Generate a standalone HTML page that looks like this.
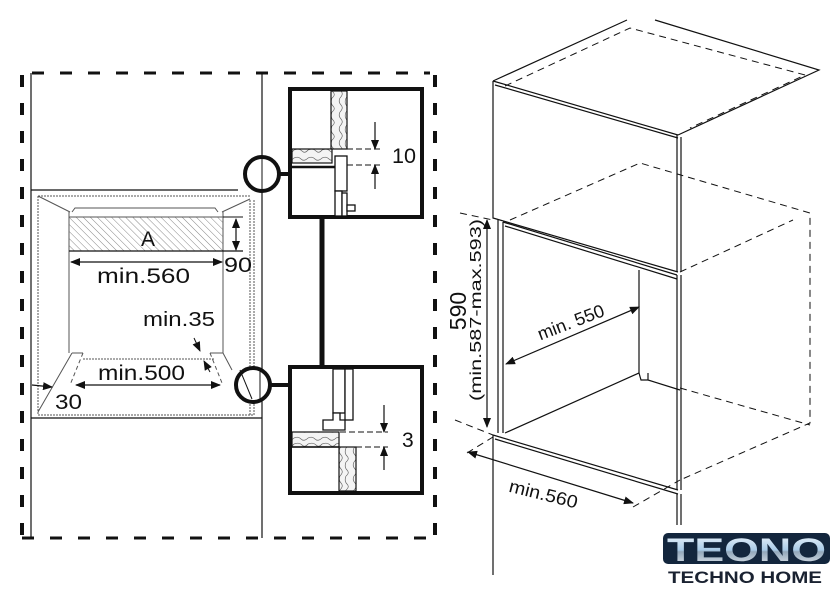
<!DOCTYPE html>
<html><head><meta charset="utf-8"><style>
html,body{margin:0;padding:0;background:#fff;}
svg{display:block;}
text{font-family:"Liberation Sans",Arial,sans-serif;fill:#111;}
</style></head><body>
<svg width="840" height="594" viewBox="0 0 840 594" xmlns="http://www.w3.org/2000/svg">
<defs>
<pattern id="hatch" width="5" height="5" patternUnits="userSpaceOnUse" patternTransform="rotate(-45)">
<line x1="0" y1="0" x2="0" y2="5" stroke="#888" stroke-width="1"/>
</pattern>
<pattern id="wood" width="14" height="14" patternUnits="userSpaceOnUse">
<rect width="14" height="14" fill="#f4f4f4"/>
<path d="M0 4 Q4 2 7 5 T14 4 M0 10 Q5 8 8 11 T14 10" stroke="#666" stroke-width="0.7" fill="none"/>
</pattern>
<pattern id="woodv" width="14" height="14" patternUnits="userSpaceOnUse">
<rect width="14" height="14" fill="#f4f4f4"/>
<path d="M4 0 Q2 4 5 7 T4 14 M10 0 Q8 5 11 8 T10 14" stroke="#666" stroke-width="0.7" fill="none"/>
</pattern>
<marker id="ah" markerWidth="10" markerHeight="8" refX="9" refY="4" orient="auto" markerUnits="userSpaceOnUse">
<path d="M0 0 L10 4 L0 8 Z" fill="#111"/>
</marker>
<marker id="as" markerWidth="10" markerHeight="8" refX="1" refY="4" orient="auto" markerUnits="userSpaceOnUse">
<path d="M10 0 L0 4 L10 8 Z" fill="#111"/>
</marker>
<linearGradient id="lg" x1="0" y1="0" x2="0" y2="1">
<stop offset="0" stop-color="#f2f8fd"/><stop offset="0.5" stop-color="#a9cbe8"/><stop offset="0.55" stop-color="#93a8bb"/><stop offset="1" stop-color="#e6ecf2"/>
</linearGradient>
</defs>

<g stroke="#111" stroke-width="4" fill="none" stroke-dasharray="12 16">
<line x1="22" y1="75" x2="22" y2="538"/>
<line x1="435" y1="75" x2="435" y2="538"/>
<line x1="32" y1="73" x2="430" y2="73" stroke-width="3"/>
<line x1="22" y1="538" x2="435" y2="538" stroke-width="3"/>
</g>
<g stroke="#111" stroke-width="1.2" fill="none">
<line x1="31" y1="73" x2="31" y2="538"/>
<line x1="262" y1="73" x2="262" y2="538"/>
<line x1="31" y1="190" x2="238" y2="190"/>
<line x1="31" y1="418" x2="262" y2="418"/>
</g>
<g stroke="#555" stroke-width="1" fill="none">
<path d="M38 196 H250 M254 200 V415 M250 200 V415 M38 415 H254 M38 196 V415" stroke-dasharray="2 1"/>
<line x1="38" y1="196" x2="70" y2="212"/>
<line x1="250" y1="199" x2="222" y2="212"/>
<path d="M69 212 V353 M223 212 V353"/>
<path d="M72 212 L75 208 H215 L218 212"/>
<line x1="83" y1="359" x2="215" y2="359" stroke-dasharray="2 1"/>
<path d="M72 353 L38 412 M72 353 H83"/>
<path d="M83 353 L70 385" stroke-dasharray="4 3"/>
<path d="M210 353 H223 L232 370"/>
<path d="M210 353 L222 383" stroke-dasharray="4 3"/>
</g>
<rect x="69" y="217" width="154" height="34" fill="url(#hatch)" stroke="#555" stroke-width="1"/>
<line x1="69" y1="251" x2="243" y2="251" stroke="#111" stroke-width="1.2"/>
<line x1="223" y1="217" x2="243" y2="217" stroke="#111" stroke-width="1"/>
<text x="148" y="246" font-size="21" text-anchor="middle">A</text>
<line x1="236" y1="219" x2="236" y2="250" stroke="#111" stroke-width="1.2" marker-end="url(#ah)" marker-start="url(#as)"/>
<text x="224" y="272" font-size="21" textLength="28" lengthAdjust="spacingAndGlyphs">90</text>
<line x1="71" y1="262" x2="222" y2="262" stroke="#111" stroke-width="1.2" marker-end="url(#ah)" marker-start="url(#as)"/>
<text x="97" y="283" font-size="21" textLength="93" lengthAdjust="spacingAndGlyphs">min.560</text>
<text x="143" y="326" font-size="20" textLength="72" lengthAdjust="spacingAndGlyphs">min.35</text>
<line x1="194" y1="338" x2="200" y2="351" stroke="#111" stroke-width="1" marker-end="url(#ah)"/>
<line x1="210" y1="372" x2="204" y2="361" stroke="#111" stroke-width="1" marker-end="url(#ah)"/>
<line x1="76" y1="385" x2="220" y2="385" stroke="#111" stroke-width="1.2" marker-end="url(#ah)" marker-start="url(#as)"/>
<text x="98" y="380" font-size="21" textLength="87" lengthAdjust="spacingAndGlyphs">min.500</text>
<line x1="32" y1="385" x2="52" y2="387" stroke="#111" stroke-width="1.2" marker-end="url(#ah)"/>
<text x="55" y="409" font-size="21" textLength="27" lengthAdjust="spacingAndGlyphs">30</text>

<g stroke="#111" fill="none">
<circle cx="262" cy="174" r="17" stroke-width="4" fill="#fff"/>
<line x1="262" y1="157" x2="262" y2="191" stroke-width="1"/>
<line x1="279" y1="174" x2="290" y2="174" stroke-width="4"/>
<circle cx="253" cy="385" r="17" stroke-width="4" fill="#fff"/>
<line x1="260" y1="368" x2="260" y2="402" stroke-width="1"/>
<line x1="240" y1="370" x2="252" y2="399" stroke-width="1"/>
<line x1="270" y1="385" x2="290" y2="385" stroke-width="4"/>
<line x1="322" y1="219" x2="322" y2="365" stroke-width="5"/>
</g>

<rect x="290" y="89" width="132" height="128" fill="#fff" stroke="#111" stroke-width="4"/>
<rect x="331" y="91" width="16" height="58" fill="url(#woodv)" stroke="#111" stroke-width="1.2"/>
<rect x="292" y="149" width="40" height="14" fill="url(#wood)" stroke="#111" stroke-width="1.2"/>
<line x1="292" y1="167" x2="336" y2="167" stroke="#111" stroke-width="2.5"/>
<g stroke="#111" stroke-width="1.3" fill="#fff">
<rect x="335" y="156" width="12" height="35"/>
<rect x="335" y="191" width="7" height="25"/>
<rect x="342" y="193" width="5" height="23"/>
<rect x="347" y="205" width="8" height="6"/>
</g>
<g stroke="#111" stroke-width="1" stroke-dasharray="6 3">
<line x1="347" y1="149" x2="380" y2="149"/>
<line x1="347" y1="165" x2="380" y2="165"/>
</g>
<line x1="375" y1="122" x2="375" y2="149" stroke="#111" stroke-width="1.2" marker-end="url(#ah)"/>
<line x1="375" y1="189" x2="375" y2="165" stroke="#111" stroke-width="1.2" marker-end="url(#ah)"/>
<text x="392" y="163" font-size="21" textLength="24" lengthAdjust="spacingAndGlyphs">10</text>

<rect x="290" y="367" width="132" height="126" fill="#fff" stroke="#111" stroke-width="4"/>
<g stroke="#111" stroke-width="1.3" fill="#fff">
<rect x="333" y="369" width="12" height="44"/>
<rect x="345" y="369" width="8" height="51"/>
<path d="M333 413 H340 V420 H345 V430 H323 V420 H333 Z"/>
</g>
<rect x="292" y="432" width="47" height="15" fill="url(#wood)" stroke="#111" stroke-width="1.2"/>
<rect x="339" y="447" width="17" height="44" fill="url(#woodv)" stroke="#111" stroke-width="1.2"/>
<line x1="292" y1="447" x2="339" y2="447" stroke="#111" stroke-width="1.5"/>
<g stroke="#111" stroke-width="1" stroke-dasharray="6 3">
<line x1="340" y1="432" x2="388" y2="432"/>
<line x1="356" y1="447" x2="388" y2="447"/>
</g>
<line x1="384" y1="405" x2="384" y2="432" stroke="#111" stroke-width="1.2" marker-end="url(#ah)"/>
<line x1="384" y1="470" x2="384" y2="447" stroke="#111" stroke-width="1.2" marker-end="url(#ah)"/>
<text x="402" y="447" font-size="21">3</text>

<g stroke="#111" stroke-width="1.2" fill="none">
<path d="M493 81 L627 20 M655 20 L819 70 L678 135"/>
<path d="M493 81 L678 135 M495 85 L678 138"/>
<path d="M493 81 V218 L678 272"/>
<path d="M677 135 V272 M681 137 V272"/>
<path d="M498 220 V433 M503 222 V433"/>
<path d="M503 222 L677 275 M505 226 L677 279"/>
<path d="M677 275 V490 M681 275 V490"/>
<path d="M639 270 V373"/>
<path d="M505 433 L639 373 L641 380 L648 380 L648 373 M648 380 L680 390"/>
<path d="M493 435 L678 490 M495 439 L678 494"/>
<path d="M493 435 V575"/>
<path d="M677 494 V525 M681 494 V525"/>
</g>
<g stroke="#111" stroke-width="1" fill="none" stroke-dasharray="7 5">
<path d="M505 86 L630 28 L805 75 L690 128"/>
<path d="M510 220 L640 163 L810 213 V423 L680 480"/>
<path d="M680 272 L793 220"/>
<path d="M680 388 L810 425"/>
<path d="M460 213 L493 220 M455 420 L493 435"/>
<path d="M467 453 L493 437 M633 507 L680 480"/>
</g>
<line x1="487" y1="220" x2="487" y2="427" stroke="#111" stroke-width="1.2" marker-end="url(#ah)" marker-start="url(#as)"/>
<text transform="translate(466,311) rotate(-90)" font-size="23" text-anchor="middle">590</text>
<text transform="translate(481,310) rotate(-90)" font-size="16" text-anchor="middle" textLength="182" lengthAdjust="spacingAndGlyphs">(min.587-max.593)</text>
<line x1="506" y1="364" x2="639" y2="307" stroke="#111" stroke-width="1.2" marker-end="url(#ah)" marker-start="url(#as)"/>
<text transform="translate(573,328) rotate(-21)" font-size="18" text-anchor="middle" textLength="70" lengthAdjust="spacingAndGlyphs">min. 550</text>
<line x1="468" y1="452" x2="633" y2="503" stroke="#111" stroke-width="1.2" marker-end="url(#ah)" marker-start="url(#as)"/>
<text transform="translate(542,500) rotate(14)" font-size="18" text-anchor="middle" textLength="70" lengthAdjust="spacingAndGlyphs">min.560</text>

<rect x="663" y="533" width="167" height="31" rx="5" fill="#13263d"/>
<text x="667" y="561" font-size="32" font-weight="bold" textLength="159" lengthAdjust="spacingAndGlyphs" style="fill:url(#lg)">TEONO</text>
<text x="668" y="583" font-size="17" font-weight="bold" textLength="154" lengthAdjust="spacingAndGlyphs" style="fill:#1a2231">TECHNO HOME</text>
</svg>
</body></html>
